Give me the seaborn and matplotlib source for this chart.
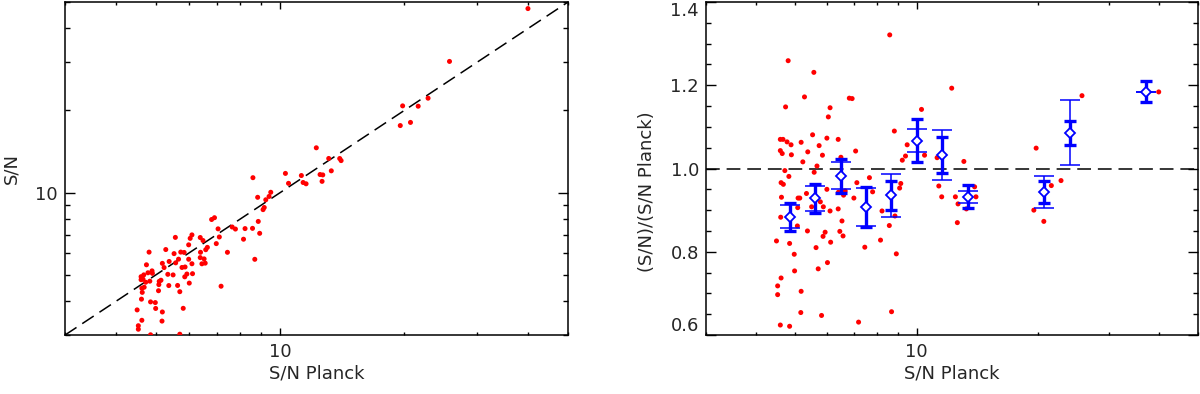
import numpy as np
import pandas as pd
import matplotlib
matplotlib.use("Agg")
import matplotlib.pyplot as plt
from matplotlib.ticker import LogLocator, FixedLocator, NullFormatter, FuncFormatter, MultipleLocator, FormatStrFormatter
import seaborn as sns

# S/N Planck of each source and the ratio (S/N)/(S/N Planck)
sn_planck = [4.80, 5.56, 4.73, 5.27, 6.10, 6.04, 6.81, 6.92, 12.23, 10.29,
             8.81, 4.59, 4.66, 4.77, 4.88, 5.17, 5.52, 5.99, 6.39, 5.73,
             5.37, 4.59, 4.64, 4.89, 5.22, 5.84, 7.06, 5.66, 5.57, 6.49,
             9.48, 9.22, 9.39, 10.47, 11.25, 13.11, 4.71, 4.82, 4.61, 4.67,
             4.62, 5.08, 5.13, 5.07, 4.60, 5.06, 5.36, 4.49, 4.84, 4.97,
             4.98, 4.61, 4.52, 4.52, 5.17, 5.16, 4.59, 4.84, 5.63, 5.70,
             6.01, 6.12, 5.93, 5.86, 6.10, 5.87, 5.49, 5.77, 5.33, 5.99,
             6.39, 6.53, 6.45, 6.57, 5.81, 6.59, 6.65, 6.99, 7.11, 7.64,
             7.78, 7.18, 7.44, 8.21, 8.14, 8.56, 8.67, 8.91, 9.08, 9.14,
             8.84, 11.36, 11.55, 12.49, 12.68, 12.63, 13.94, 14.05, 13.30, 8.58,
             25.76, 19.82, 39.95, 22.85, 21.62, 19.56, 20.71, 6.40, 5.70]
ratio = [1.259, 1.231, 1.148, 1.172, 1.146, 1.124, 1.169, 1.168, 1.193, 1.142,
         1.090, 1.070, 1.070, 1.064, 1.057, 1.063, 1.081, 1.073, 1.070, 1.055,
         1.040, 1.043, 1.036, 1.033, 1.016, 1.032, 1.042, 1.006, 0.991, 1.027,
         1.057, 1.020, 1.030, 1.032, 1.026, 1.017, 0.995, 0.981, 0.966, 0.962,
         0.931, 0.929, 0.929, 0.906, 0.883, 0.862, 0.850, 0.826, 0.820, 0.794,
         0.754, 0.737, 0.718, 0.697, 0.705, 0.654, 0.624, 0.621, 0.810, 0.759,
         0.774, 0.823, 0.847, 0.837, 0.898, 0.908, 0.908, 0.920, 0.940, 0.950,
         0.903, 0.874, 0.849, 0.838, 0.647, 0.936, 0.946, 0.929, 0.966, 0.978,
         0.944, 0.631, 0.811, 0.898, 0.828, 0.863, 0.656, 0.795, 0.953, 0.964,
         0.886, 0.958, 0.932, 0.932, 0.915, 0.870, 0.956, 0.932, 0.903, 1.321,
         1.175, 1.049, 1.184, 0.971, 0.959, 0.900, 0.873, 0.943, 0.530]

# binned means and their two kinds of error
bin_x = [4.84, 5.60, 6.48, 7.48, 8.66, 10.0, 11.6, 13.4, 20.7, 24.0, 37.1]
bin_mean = [0.884, 0.928, 0.983, 0.908, 0.936, 1.067, 1.033, 0.932, 0.944, 1.086, 1.185]
err_thick = [0.0335, 0.034, 0.041, 0.0475, 0.0345, 0.051, 0.043, 0.0275, 0.026, 0.029, 0.025]
err_thin = [0.028, 0.0295, 0.0325, 0.045, 0.0515, 0.027, 0.0605, 0.015, 0.0385, 0.0775, 0.0]

df = pd.DataFrame({"planck": sn_planck, "ratio": ratio})
df["sn"] = df["planck"] * df["ratio"]

sns.set_style("ticks")
plt.rcParams["font.family"] = ["DejaVu Sans"]
plt.rcParams["font.size"] = 13

fig = plt.figure(figsize=(12, 3.94), dpi=100)
ax1 = fig.add_axes([0.0542, 0.1497, 0.4192, 0.8452])
ax2 = fig.add_axes([0.5883, 0.1497, 0.4100, 0.8452])

lims = [3, 50]

# left panel: S/N vs S/N Planck
sns.scatterplot(data=df, x="planck", y="sn", color="red", s=13, edgecolor="none",
                ax=ax1, zorder=3)
ax1.plot(lims, lims, color="black", lw=1.1, ls=(0, (9, 4.5)), zorder=2)
ax1.set_xscale("log")
ax1.set_yscale("log")
ax1.set_xlim(lims)
ax1.set_ylim(lims)
ax1.set_xlabel("S/N Planck", fontsize=13, labelpad=2)
ax1.set_ylabel("S/N", fontsize=13)
ax1.yaxis.set_label_coords(-0.089, 0.5)

# right panel: ratio vs S/N Planck
sns.scatterplot(data=df, x="planck", y="ratio", color="red", s=13, edgecolor="none",
                ax=ax2, zorder=3)
ax2.axhline(1.0, color="black", lw=1.1, ls=(0, (9, 4.5)), zorder=2)
ax2.errorbar(bin_x, bin_mean, yerr=err_thin, fmt="none", ecolor="blue",
             elinewidth=1.1, capsize=7.2, capthick=1.1, zorder=4)
ax2.errorbar(bin_x, bin_mean, yerr=err_thick, fmt="none", ecolor="blue",
             elinewidth=2.4, capsize=4, capthick=2.4, zorder=5)
ax2.plot(bin_x, bin_mean, ls="none", marker="D", ms=5, mfc="white", mec="blue",
         mew=1.3, zorder=6)
ax2.set_xscale("log")
ax2.set_xlim(lims)
ax2.set_ylim(0.6, 1.4)
ax2.yaxis.set_major_locator(FixedLocator([0.6, 0.8, 1.0, 1.2, 1.4]))
ax2.yaxis.set_minor_locator(MultipleLocator(0.05))
ax2.yaxis.set_major_formatter(FormatStrFormatter("%.1f"))
ax2.set_xlabel("S/N Planck", fontsize=13, labelpad=2)
ax2.set_ylabel("(S/N)/(S/N Planck)", fontsize=13)
ax2.yaxis.set_label_coords(-0.102, 0.43)

ten = FuncFormatter(lambda v, p: "%d" % round(v))
for ax in (ax1, ax2):
    ax.xaxis.set_major_locator(FixedLocator([10]))
    ax.xaxis.set_minor_locator(LogLocator(base=10, subs=np.arange(2, 10)))
    ax.xaxis.set_major_formatter(ten)
    ax.xaxis.set_minor_formatter(NullFormatter())
    ax.tick_params(which="both", direction="in", top=True, right=True,
                   width=1.0, color="black", labelsize=13)
    ax.tick_params(axis="x", which="major", length=4.7, pad=6)
    ax.tick_params(axis="x", which="minor", length=2.5)
    ax.tick_params(axis="y", which="major", length=7.2, pad=5)
    ax.tick_params(axis="y", which="minor", length=3.6)
    for sp in ax.spines.values():
        sp.set_linewidth(1.1)
        sp.set_color("black")

ax1.yaxis.set_major_locator(FixedLocator([10]))
ax1.yaxis.set_minor_locator(LogLocator(base=10, subs=np.arange(2, 10)))
ax1.yaxis.set_major_formatter(ten)
ax1.yaxis.set_minor_formatter(NullFormatter())

# keep the end labels of the ratio axis inside the frame, as in the original
fig.canvas.draw()
yticks = ax2.yaxis.get_major_ticks()
yticks[0].label1.set_verticalalignment("bottom")
yticks[-1].label1.set_verticalalignment("top")

fig.savefig("out.png", dpi=100)
